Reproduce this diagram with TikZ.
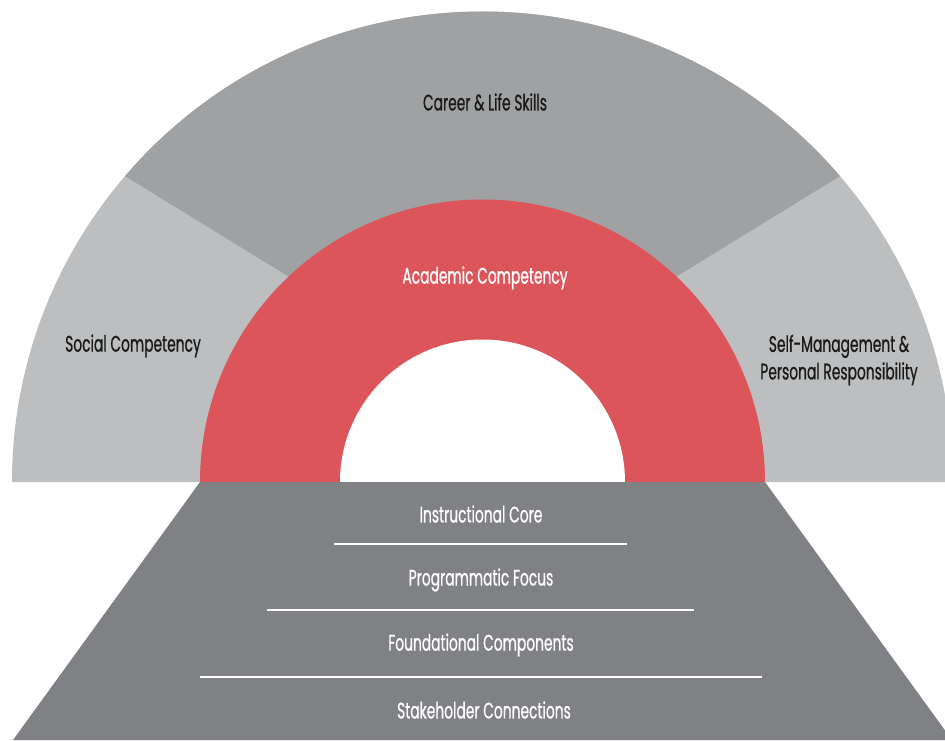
\documentclass[tikz,border=0pt]{standalone}
\usepackage{fontspec}
\setmainfont{Poppins}[FakeStretch=0.615,FakeBold=0.7]
\usetikzlibrary{calc}
\definecolor{lightg}{HTML}{BCBEC0}
\definecolor{topg}{HTML}{A0A1A3}
\definecolor{redc}{HTML}{DC555B}
\definecolor{baseg}{HTML}{808184}
\definecolor{darktext}{HTML}{1A1A1A}
\tikzset{
  lbl/.style={font=\fontsize{22.5}{27.5}\selectfont, align=center, inner sep=0pt},
  darklbl/.style={lbl, text=darktext},
  whitelbl/.style={lbl, text=white},
  sepline/.style={draw=white, line width=1.2pt}
}
\begin{document}
\begin{tikzpicture}[x=1pt,y=1pt]
\useasboundingbox (0,0) rectangle (945,740);
\coordinate (C) at (482.5,258);
% outer light grey semicircle
\fill[lightg] ($(C)+(-470.5,0)$) arc[start angle=180,end angle=0,radius=470.5] -- cycle;
% top darker segment
\fill[topg] ($(C)+(139.44:470.5)$) arc[start angle=139.44,end angle=40.56,radius=470.5]
  -- ($(C)+(46.65:282.5)$) -- (C) -- ($(C)+(133.35:282.5)$) -- cycle;
% red arch
\fill[redc] ($(C)+(-282.5,0)$) arc[start angle=180,end angle=0,radius=282.5] -- cycle;
\fill[white] ($(C)+(-142.5,0)$) arc[start angle=180,end angle=0,radius=142.5] -- cycle;
% base trapezoid
\fill[baseg] (200,258) -- (765,258) -- (952,0) -- (13,0) -- cycle;
% separators
\coordinate (s1a) at (334,196); \coordinate (s1b) at (627,196);
\coordinate (s2a) at (267,130); \coordinate (s2b) at (694,130);
\coordinate (s3a) at (200,63);  \coordinate (s3b) at (762,63);
\draw[sepline] (s1a) -- (s1b);
\draw[sepline] (s2a) -- (s2b);
\draw[sepline] (s3a) -- (s3b);
% labels
\node[darklbl] (career) at (485,638) {Career \& Life Skills};
\node[whitelbl] (acad) at (485,462) {Academic Competency};
\node[darklbl] (social) at (133,394) {Social Competency};
\node[darklbl] (self) at (839,380) {Self-Management \&\\Personal Responsibility};
\node[whitelbl] (instr) at (481,226) {Instructional Core};
\node[whitelbl] (prog) at (481,160) {Programmatic Focus};
\node[whitelbl] (found) at (481,95) {Foundational Components};
\node[whitelbl] (stake) at (484,30) {Stakeholder Connections};
\end{tikzpicture}
\end{document}
